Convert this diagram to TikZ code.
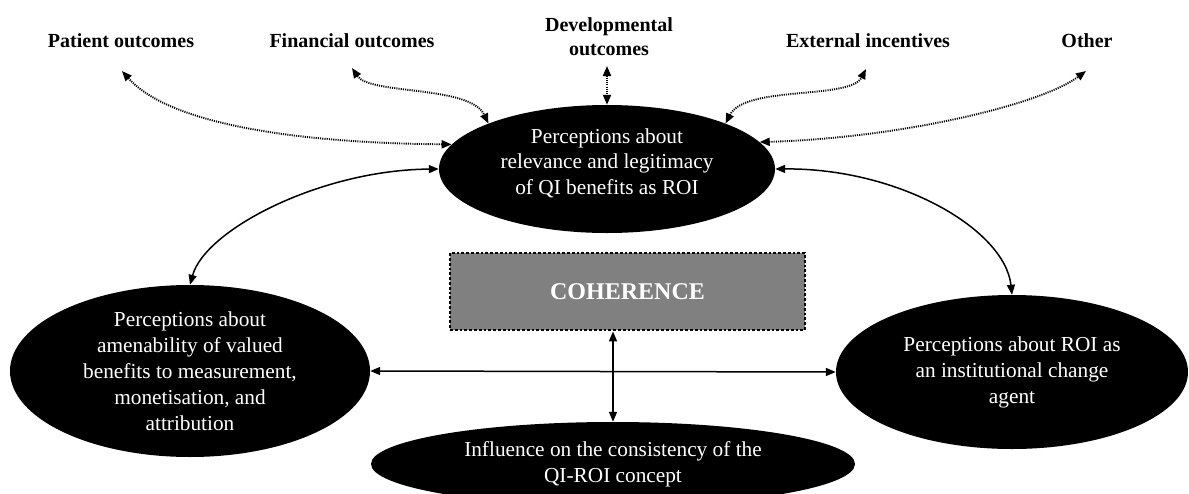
\documentclass[tikz,border=0pt]{standalone}
\usepackage{fontspec}
\setmainfont{Liberation Serif}
\usetikzlibrary{arrows.meta,shapes.geometric}

\tikzset{
  blob/.style={ellipse, fill=black, text=white, inner sep=0pt, align=center,
    font=\fontsize{21.3}{26}\selectfont},
  outcome/.style={font=\bfseries\fontsize{20}{24}\selectfont, align=center, inner sep=0pt},
  tip/.style={Triangle[length=10pt,width=8pt]},
  link/.style={line width=1.5pt, {Triangle[length=10pt,width=8pt]}-{Triangle[length=10pt,width=8pt]}},
  dotlink/.style={line width=1.9pt, dash pattern=on 1.1pt off 1.1pt,
    {Triangle[length=10pt,width=8pt]}-{Triangle[length=10pt,width=8pt]}},
  corebox/.style={fill=black!50, draw=black, line width=2.8pt, dash pattern=on 2.8pt off 2pt,
    text=white, font=\bfseries\fontsize{24}{28}\selectfont, inner sep=0pt}
}

\begin{document}
\begin{tikzpicture}[x=1pt,y=-1pt]
  \useasboundingbox (0,0) rectangle (1189,493);
  \clip (0,0) rectangle (1189,493);

  % central ellipses
  \node[blob, minimum width=336pt, minimum height=128pt] (rel) at (607,169) {};
  \node[white, font=\fontsize{21.3}{25.5}\selectfont, align=center, inner sep=0pt] (reltext) at (607,163)
    {Perceptions about\\relevance and legitimacy\\of QI benefits as ROI};
  \node[blob, minimum width=360pt, minimum height=172pt] (amen) at (190,371)
    {Perceptions about\\amenability of valued\\benefits to measurement,\\monetisation, and\\attribution};
  \node[blob, minimum width=352pt, minimum height=154pt] (agent) at (1012,372)
    {Perceptions about ROI as\\an institutional change\\agent};
  \node[blob, minimum width=484pt, minimum height=84pt] (cons) at (613,464)
    {Influence on the consistency of the\\QI-ROI concept};

  % coherence box
  \node[corebox, minimum width=355pt, minimum height=77pt] (coh) at (627.5,291.5) {COHERENCE};

  % outcome labels along the top
  \node[outcome] (pat) at (121,41) {Patient outcomes};
  \node[outcome] (fin) at (352,41) {Financial outcomes};
  \node[outcome] (dev) at (609,37) {Developmental\\outcomes};
  \node[outcome] (ext) at (868,41) {External incentives};
  \node[outcome] (oth) at (1087,41) {Other};

  \coordinate (patTip) at (122,71);
  \coordinate (finTip) at (352,68);
  \coordinate (devTip) at (607,66);
  \coordinate (extTip) at (866,69);
  \coordinate (othTip) at (1086,71);

  % dotted links from the outcomes
  \draw[dotlink] (patTip) .. controls (170,125) and (300,143) .. (rel.171);
  \draw[dotlink] (finTip) .. controls (370,95) and (470,85) .. (rel.159);
  \draw[dotlink] (devTip) -- (rel.north);
  \draw[dotlink] (rel.21) .. controls (745,85) and (850,100) .. (extTip);
  \draw[dotlink] (rel.10) .. controls (900,138) and (1040,105) .. (othTip);

  % solid links between the perceptions
  \draw[link] (amen.north) .. controls (205,230) and (320,170) .. (rel.west);
  \draw[link] (rel.east) .. controls (900,168) and (1005,230) .. (agent.north);
  \draw[link] (amen.east) -- (agent.west);
  \draw[link] (coh.south -| cons.north) -- (cons.north);
\end{tikzpicture}
\end{document}
